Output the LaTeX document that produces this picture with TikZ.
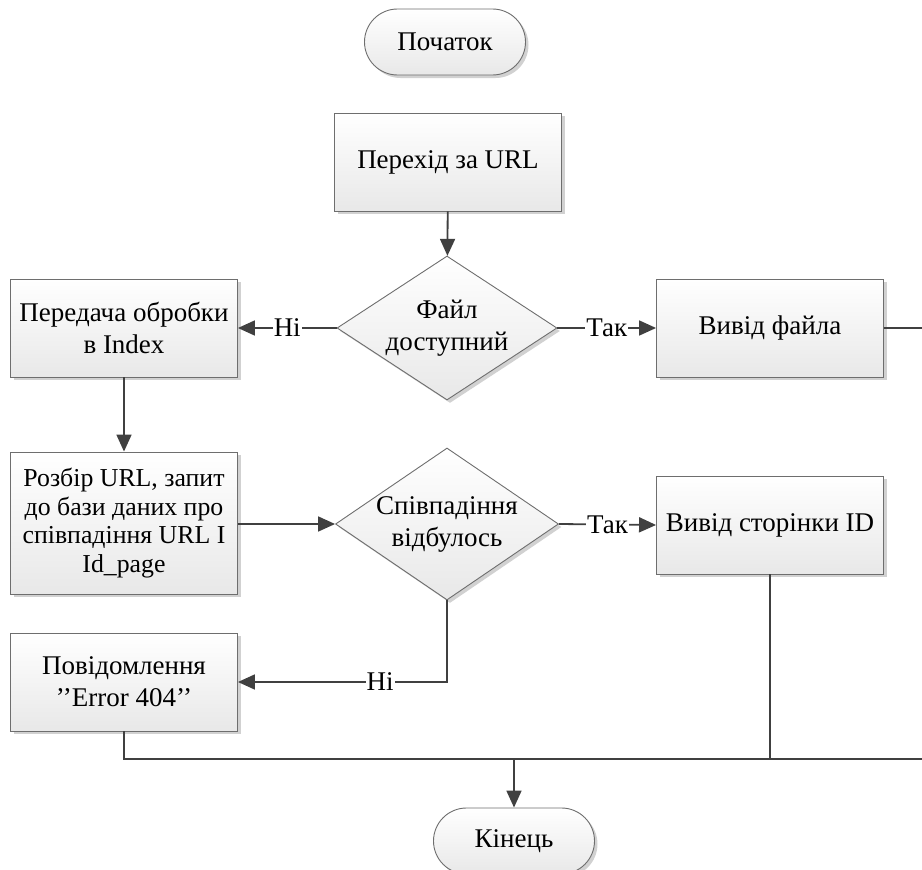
\documentclass[tikz,border=0pt]{standalone}
\usepackage{fontspec}
\setmainfont{Liberation Serif}
\usetikzlibrary{arrows.meta,shapes.geometric,shapes.misc,shadows,calc}
\definecolor{lineC}{HTML}{404040}
\definecolor{bordC}{HTML}{6E6E6E}
\tikzset{
  base/.style={draw=bordC, line width=0.9pt, top color=white, bottom color=black!9,
    drop shadow={shadow xshift=3pt, shadow yshift=-3pt, fill=black!18, opacity=1},
    align=center, font=\fontsize{27}{32}\selectfont, inner sep=1pt},
  proc/.style={base, rectangle, minimum width=227pt, minimum height=98pt},
  term/.style={base, rounded rectangle, minimum width=163pt, minimum height=66pt},
  dec/.style={base, diamond, inner sep=-30pt, shape aspect=1.5, minimum width=220pt, minimum height=144pt},
  conn/.style={draw=lineC, line width=1.8pt},
  arr/.style={conn, -{Triangle[length=17pt,width=15pt]}},
  lbl/.style={fill=white, inner sep=1pt, font=\fontsize{27}{32}\selectfont}
}
\begin{document}
\begin{tikzpicture}[x=1pt,y=-1pt]
\useasboundingbox (0,0) rectangle (922,870);
\node[term] (start) at (445,42) {Початок};
\node[proc] (p1) at (448,162) {Перехід за URL};
\node[dec] (d1) at (447,328) {Файл\\доступний};
\node[proc] (pidx) at (124,328) {Передача обробки\\в Index};
\node[proc] (vf) at (770,328) {Вивід файла};
\node[proc, minimum height=142pt, font=\fontsize{25.8}{28.5}\selectfont] (parse) at (124,523) {Розбір URL, запит\\до бази даних про\\співпадіння URL I\\Id\_page};
\node[dec, minimum width=223pt, minimum height=152pt] (d2) at (447,524) {Співпадіння\\відбулось};
\node[proc] (vid) at (770,525) {Вивід сторінки ID};
\node[proc] (err) at (124,682) {Повідомлення\\’’Error 404’’};
\node[term] (end) at (514,841) {Кінець};
\coordinate (jn) at (514,759);
\coordinate (r1) at (922,328);
\coordinate (r2) at (922,759);

\draw[arr] (p1) -- (d1);
\draw[arr] (d1.west) -- node[lbl] {Ні} (pidx.east);
\draw[arr] (d1.east) -- node[lbl] {Так} (vf.west);
\draw[arr] (pidx) -- (parse);
\draw[arr] (parse.east |- d2.west) -- (d2.west);
\draw[arr] (d2.east) -- node[lbl] {Так} (vid.west);
\draw[arr] (d2.south) |- node[lbl, pos=0.66] {Ні} (err.east);
\draw[conn] (vf.east) -- (r1);
\draw[conn] (err.south) |- (r2);
\draw[conn] (vid.south) -- (vid.south |- r2);
\draw[arr] (jn) -- (end.north);
\end{tikzpicture}
\end{document}
